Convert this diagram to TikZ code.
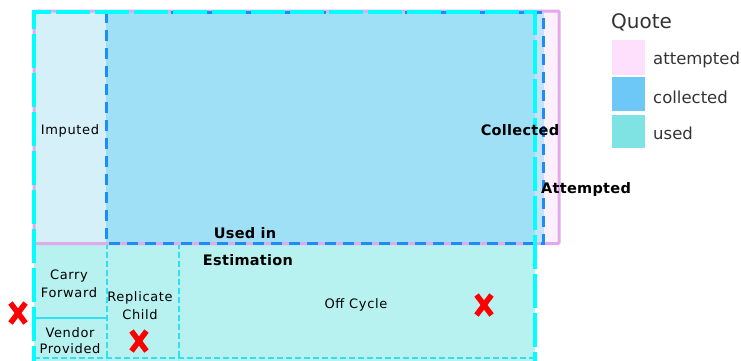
\documentclass[tikz,border=0pt]{standalone}
\usepackage{fontspec}
\setmainfont{DejaVu Sans}
\newfontfamily\smallf[LetterSpace=5]{DejaVu Sans}
\newfontfamily\boldf[LetterSpace=2]{DejaVu Sans Bold}
\definecolor{attFill}{HTML}{FDF0FD}
\definecolor{attLine}{HTML}{E2AAE8}
\definecolor{colOnly}{HTML}{C4E2F8}
\definecolor{colUsed}{HTML}{A0E0F7}
\definecolor{impFill}{HTML}{D5F0F8}
\definecolor{usedFill}{HTML}{B8F2F0}
\definecolor{colLine}{HTML}{1E8CF8}
\definecolor{usedLine}{HTML}{00FFFF}
\definecolor{thinLine}{HTML}{30E0F0}
\definecolor{legPink}{HTML}{FFE0FC}
\definecolor{legBlue}{HTML}{6DC8F8}
\definecolor{legTeal}{HTML}{7FE3E3}
\definecolor{legText}{HTML}{333333}
\definecolor{xred}{HTML}{FF0000}
\tikzset{
  smalltxt/.style={inner sep=0pt, font=\smallf\fontsize{13}{15}\selectfont, align=center},
  boldtxt/.style={inner sep=0pt, font=\boldf\fontsize{14.5}{17}\selectfont},
  legtxt/.style={inner sep=0pt, anchor=west, text=legText, font=\fontsize{16.5}{19}\selectfont},
  swatch/.style={draw=none, inner sep=0pt},
  thindash/.style={draw=thinLine, line width=1.1pt, dash pattern=on 6pt off 3pt},
  redx/.style={draw=xred, line width=5.5pt}
}
\newcommand{\redcross}[2]{%
  \draw[redx] (#1-7.5,#2-10) -- (#1+7.5,#2+10);
  \draw[redx] (#1+7.5,#2-10) -- (#1-7.5,#2+10);}
\begin{document}
\begin{tikzpicture}[x=1pt,y=-1pt]
\useasboundingbox (0,0) rectangle (741,360);
\begin{scope}
\clip (0,0) rectangle (741,360);
% fills
\fill[attFill] (34,10) rectangle (560,244);
\fill[colOnly] (106,12) rectangle (544,243);
\fill[impFill] (34,12) rectangle (106,243);
\fill[colUsed] (106,12) rectangle (535,243);
\fill[usedFill] (34,243) rectangle (535,365);
% thin internal lines
\draw[thindash] (107,243) -- (107,360);
\draw[thindash] (179,243) -- (179,360);
\draw[thindash] (34,358) -- (535,358);
\draw[draw=thinLine, line width=1.3pt] (34,318) -- (107,318);
% attempted border
\draw[attLine, line width=3pt, rounded corners=1pt] (34,11) rectangle (559,243.5);
% collected border
\draw[colLine, line width=3pt, dash pattern=on 11pt off 7pt] (106,12) -- (106,243) -- (543,243) -- (543,12) -- cycle;
% used border
\draw[usedLine, line width=4pt, dash pattern=on 34pt off 5pt] (34,380) -- (34,12) -- (535,12) -- (535,380);
\end{scope}
% texts
\node[smalltxt] (imp) at (70,131) {Imputed};
\node[boldtxt] (col) at (520,130) {Collected};
\node[boldtxt] (att) at (586,189) {Attempted};
\node[boldtxt] (usedin) at (245,233) {Used in};
\node[boldtxt] (est) at (248,260) {Estimation};
\node[smalltxt] (carry) at (69,284) {Carry\\[3pt]Forward};
\node[smalltxt] (repl) at (140,306) {Replicate\\[3pt]Child};
\node[smalltxt] (vend) at (70,341) {Vendor\\[1pt]Provided};
\node[smalltxt] (off) at (356,305) {Off Cycle};
% red crosses
\redcross{18}{313}
\redcross{139}{341}
\redcross{484}{305}
% legend
\node[inner sep=0pt, anchor=west, text=legText, font=\fontsize{20}{24}\selectfont] (quote) at (611,22) {Quote};
\node[swatch, fill=legPink, minimum width=33pt, minimum height=35pt, anchor=north west] (sw1) at (612,40) {};
\node[swatch, fill=legBlue, minimum width=33pt, minimum height=34pt, anchor=north west] (sw2) at (612,77) {};
\node[swatch, fill=legTeal, minimum width=33pt, minimum height=33pt, anchor=north west] (sw3) at (612,115) {};
\node[legtxt] (l1) at (653,60) {attempted};
\node[legtxt] (l2) at (653,97) {collected};
\node[legtxt] (l3) at (653,133) {used};
\end{tikzpicture}
\end{document}
